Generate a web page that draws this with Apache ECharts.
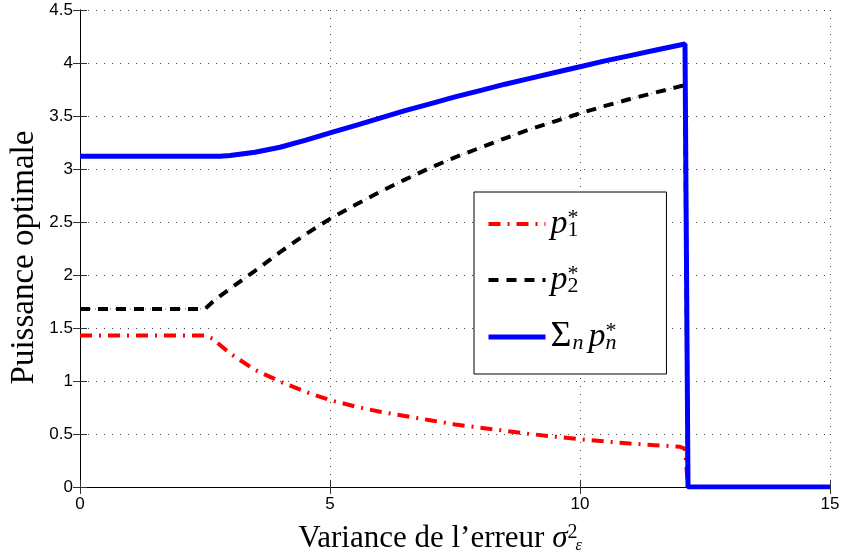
<!DOCTYPE html>
<html>
<head>
<meta charset="utf-8">
<script src="https://cdn.jsdelivr.net/npm/echarts@6/dist/echarts.min.js"></script>
<style>html,body{margin:0;padding:0;background:#fff;}#c{width:843px;height:558px;}</style>
</head>
<body>
<div id="c"></div>
<script>
// Data
const xs   = [0, 1, 2, 2.5, 2.65, 2.8, 3, 3.5, 4, 4.5, 5, 5.5, 6, 6.5, 7, 7.5, 8, 8.5, 9, 9.5, 10, 10.5, 11, 11.5, 12, 12.1, 12.16, 13, 14, 15];
const p1   = [1.43, 1.43, 1.43, 1.43, 1.40, 1.34, 1.26, 1.105, 0.995, 0.90, 0.82, 0.76, 0.71, 0.67, 0.63, 0.59, 0.56, 0.53, 0.50, 0.475, 0.45, 0.43, 0.41, 0.395, 0.38, 0.36, 0, 0, 0, 0];
const p2   = [1.68, 1.68, 1.68, 1.68, 1.745, 1.80, 1.87, 2.04, 2.215, 2.38, 2.53, 2.66, 2.785, 2.90, 3.01, 3.11, 3.20, 3.29, 3.375, 3.45, 3.525, 3.595, 3.66, 3.72, 3.78, 3.79, 0, 0, 0, 0];
const psum = [3.12, 3.12, 3.12, 3.12, 3.12, 3.12, 3.128, 3.158, 3.205, 3.27, 3.34, 3.41, 3.48, 3.55, 3.615, 3.68, 3.74, 3.80, 3.855, 3.91, 3.965, 4.02, 4.07, 4.12, 4.17, 4.18, 0, 0, 0, 0];
const seriesNames = ['p1', 'p2', 'sum'];
const legendRich = {
  p1: '{p|p}{sp|*}{sb|1}',
  p2: '{p|p}{sp|*}{sb|2}',
  sum: '{sg|Σ}{sn|n}{p|p}{sp|*}{sbi|n}'
};
const xName = '{t|Variance de l’erreur }{s|σ}{sp|2}{sb|ε}';
const yName = 'Puissance optimale';

const pairs = arr => xs.map((x, i) => [x, arr[i]]);

const serif = 'Liberation Serif';
const sans = 'Liberation Sans';
const gridDots = {show: true, lineStyle: {color: '#444', width: 1, type: [1, 7]}};
const tick = {show: true, inside: true, length: 7, lineStyle: {color: '#333'}};
const line = {show: true, lineStyle: {color: '#000', width: 1}};

const redStyle = {color: '#ff0000', width: 4, type: [12, 7, 2, 7], cap: 'butt'};
const blackStyle = {color: '#000', width: 4, type: [10, 8], cap: 'butt'};
const blueStyle = {color: '#0000ff', width: 5, type: 'solid'};

const chart = echarts.init(document.getElementById('c'), null, {renderer: 'canvas'});
chart.setOption({
  animation: false,
  backgroundColor: '#fff',
  grid: {left: 80, right: 13, top: 10, bottom: 71, containLabel: false, outerBoundsMode: 'none'},
  xAxis: [{
    type: 'value', min: 0, max: 15, interval: 5, position: 'bottom',
    axisLine: line, axisTick: tick, splitLine: gridDots,
    axisLabel: {fontFamily: sans, fontSize: 17, color: '#000', margin: 9},
    name: xName, nameLocation: 'middle', nameGap: 36,
    nameTextStyle: {
      rich: {
        t: {fontFamily: serif, fontSize: 31, color: '#000'},
        s: {fontFamily: serif, fontStyle: 'italic', fontSize: 31, color: '#000'},
        sp: {fontFamily: serif, fontSize: 20, color: '#000', width: 0, verticalAlign: 'top', lineHeight: 20, padding: [0, 0, 0, 5]},
        sb: {fontFamily: serif, fontStyle: 'italic', fontSize: 16, color: '#000', verticalAlign: 'bottom', lineHeight: 16, padding: [0, 30, 0, 3]}
      }
    }
  }, {
    type: 'value', min: 0, max: 15, interval: 5, position: 'top',
    axisLine: line, axisTick: tick, splitLine: {show: false}, axisLabel: {show: false}
  }],
  yAxis: [{
    type: 'value', min: 0, max: 4.5, interval: 0.5, position: 'left',
    axisLine: line, axisTick: tick, splitLine: gridDots,
    axisLabel: {fontFamily: sans, fontSize: 17, color: '#000', margin: 7},
    name: yName, nameLocation: 'middle', nameRotate: 90, nameGap: 39, nameMoveOverlap: false,
    nameTextStyle: {fontFamily: serif, fontSize: 33, color: '#000', padding: [0, 18, 0, 0]}
  }, {
    type: 'value', min: 0, max: 4.5, interval: 0.5, position: 'right',
    axisLine: line, axisTick: tick, splitLine: {show: false}, axisLabel: {show: false}
  }],
  legend: {
    data: [
      {name: seriesNames[0], lineStyle: redStyle},
      {name: seriesNames[1], lineStyle: blackStyle},
      {name: seriesNames[2], lineStyle: blueStyle}
    ],
    orient: 'vertical', left: 474, top: 192,
    padding: [15, 50, 19, 12],
    itemWidth: 57, itemHeight: 30, itemGap: 22,
    itemStyle: {opacity: 0},
    backgroundColor: '#fff', borderColor: '#000', borderWidth: 1, borderRadius: 0,
    formatter: name => legendRich[name],
    textStyle: {
      color: '#000',
      rich: {
        p: {fontFamily: serif, fontStyle: 'italic', fontSize: 34, lineHeight: 34, color: '#000'},
        sg: {fontFamily: serif, fontSize: 36, lineHeight: 34, color: '#000', padding: [0, 1, 0, 0]},
        sn: {fontFamily: serif, fontStyle: 'italic', fontSize: 22, lineHeight: 20, verticalAlign: 'bottom', color: '#000', padding: [0, 5, 0, 0]},
        sp: {fontFamily: serif, fontSize: 22, lineHeight: 22, verticalAlign: 'top', width: 0, color: '#000'},
        sb: {fontFamily: serif, fontSize: 22, lineHeight: 20, verticalAlign: 'bottom', color: '#000'},
        sbi: {fontFamily: serif, fontStyle: 'italic', fontSize: 22, lineHeight: 20, verticalAlign: 'bottom', color: '#000'}
      }
    }
  },
  series: [{
    name: 'p1', type: 'line', data: pairs(p1), showSymbol: false, symbol: 'none',
    lineStyle: redStyle, itemStyle: {color: '#ff0000'}, z: 3
  }, {
    name: 'p2-dots', type: 'line', data: pairs(p2), showSymbol: false, symbol: 'none', silent: true,
    lineStyle: {color: '#666', width: 1, type: [1, 4]}, z: 2
  }, {
    name: 'p2', type: 'line', data: pairs(p2), showSymbol: false, symbol: 'none',
    lineStyle: blackStyle, itemStyle: {color: '#000'}, z: 3
  }, {
    name: 'sum', type: 'line', data: pairs(psum), showSymbol: false, symbol: 'none',
    lineStyle: blueStyle, itemStyle: {color: '#0000ff'}, z: 4
  }]
});
</script>
</body>
</html>
